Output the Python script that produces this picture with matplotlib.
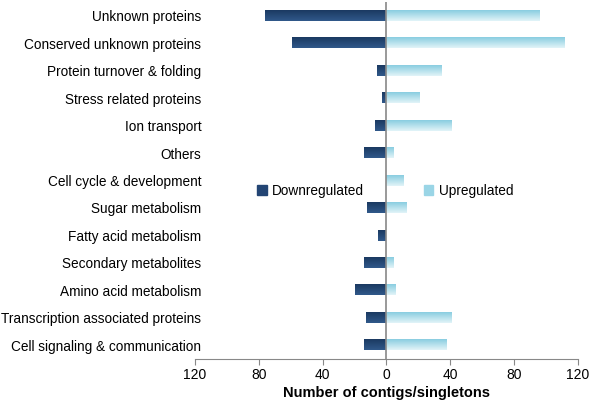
import numpy as np
import matplotlib
matplotlib.use('Agg')
import matplotlib.pyplot as plt
from matplotlib.colors import LinearSegmentedColormap
from matplotlib.ticker import FuncFormatter

plt.rcParams['font.family'] = ['Liberation Sans', 'DejaVu Sans']

categories = ['Unknown proteins', 'Conserved unknown proteins', 'Protein turnover & folding',
              'Stress related proteins', 'Ion transport', 'Others', 'Cell cycle & development',
              'Sugar metabolism', 'Fatty acid metabolism', 'Secondary metabolites',
              'Amino acid metabolism', 'Transcription associated proteins',
              'Cell signaling & communication']
downregulated = [76, 59, 6, 3, 7, 14, 0, 12, 5, 14, 20, 13, 14]
upregulated = [96, 112, 35, 21, 41, 5, 11, 13, 0, 5, 6, 41, 38]

down_cmap = LinearSegmentedColormap.from_list('down', ['#1b3961', '#30598a'])
up_cmap = LinearSegmentedColormap.from_list('up', ['#89cde0', '#e2f4f8'])

fig = plt.figure(figsize=(6, 4.13), dpi=100)
ax = fig.add_axes([0.325, 0.131, 0.638, 0.864])

y = np.arange(len(categories))
bh = 0.38
down_bars = ax.barh(y, -np.array(downregulated), height=bh, color='#1f3f6b', label='Downregulated')
up_bars = ax.barh(y, upregulated, height=bh, color='#a8dcea', label='Upregulated')

# vertical gradient on each bar
grad = np.linspace(0, 1, 64).reshape(-1, 1)
for bars, cmap in ((down_bars, down_cmap), (up_bars, up_cmap)):
    for p in bars:
        x0, y0 = p.get_x(), p.get_y()
        w, h = p.get_width(), p.get_height()
        if w == 0:
            continue
        p.set_facecolor('none')
        p.set_edgecolor('none')
        ax.imshow(grad, cmap=cmap, aspect='auto', interpolation='bilinear',
                  extent=[x0, x0 + w, y0 + h, y0], zorder=2)

ax.set_ylim(len(categories) - 0.5, -0.5)
ax.set_xlim(-120, 120)
ax.set_xticks(np.arange(-120, 121, 40))
ax.xaxis.set_major_formatter(FuncFormatter(lambda v, pos: '%d' % abs(v)))
ax.set_yticks(y)
ax.set_yticklabels(categories, fontsize=9.8)
ax.tick_params(axis='y', length=0, pad=-4.5)
ax.tick_params(axis='x', labelsize=10, length=4, color='#888888', direction='out', pad=2.5)
for s in ('top', 'right', 'left'):
    ax.spines[s].set_visible(False)
ax.spines['bottom'].set_color('#888888')
ax.axvline(0, color='#888888', lw=1.2, zorder=3)
ax.set_xlabel('Number of contigs/singletons', fontsize=10.5, fontweight='bold', labelpad=3)

h1 = plt.Rectangle((0, 0), 1, 1, color='#234574')
h2 = plt.Rectangle((0, 0), 1, 1, color='#9ad5e6')
ax.legend([h1, h2], ['Downregulated', 'Upregulated'], ncol=2, frameon=False,
          loc='center', bbox_to_anchor=(0.642, 0.5375), bbox_transform=fig.transFigure,
          fontsize=9.8, handlelength=0.7, handleheight=0.7, handletextpad=0.4,
          columnspacing=4.4, borderpad=0, borderaxespad=0)

fig.savefig('out.png', dpi=100)
